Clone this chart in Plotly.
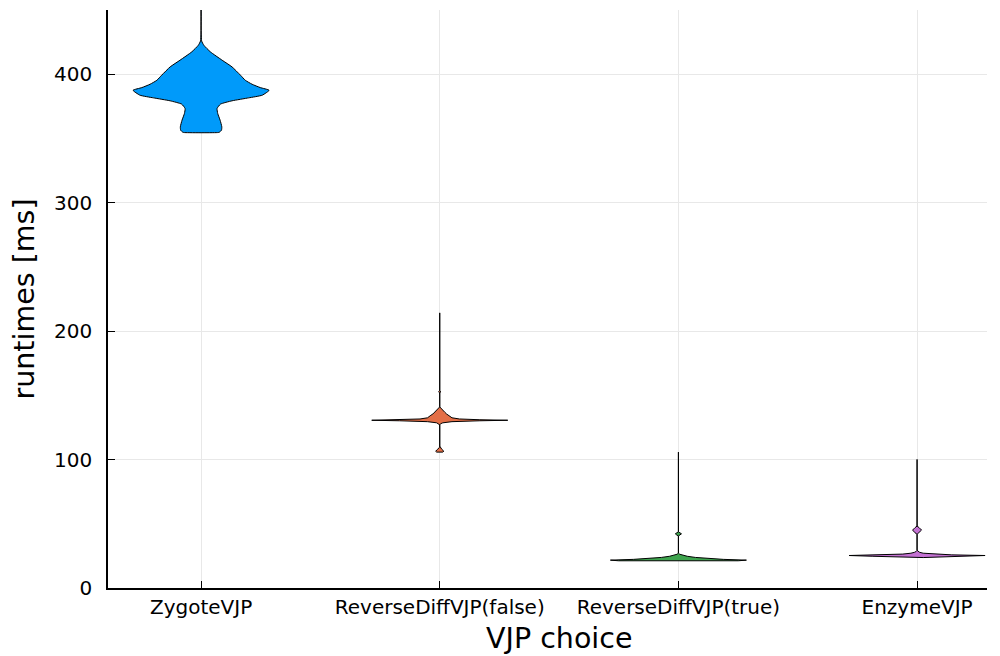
import plotly.graph_objects as go

categories = ["ZygoteVJP", "ReverseDiffVJP(false)", "ReverseDiffVJP(true)", "EnzymeVJP"]
colors = ["#009AFA", "#E36F47", "#3EA44E", "#C371D2"]

# density profiles: runtime levels [ms] and relative density (max = 1)
zygote_y = [354.6, 354.9, 356.4, 359.0, 364.2, 369.4, 373.3, 376.7, 379.3, 381.6, 383.7, 387.5,
            389.6, 392.2, 395.3, 399.2, 405.7, 410.9, 417.4, 422.6, 426.0, 470.0]
zygote_d = [0.25, 0.27, 0.30, 0.305, 0.28, 0.245, 0.235, 0.285, 0.455, 0.70, 0.90, 1.0,
            0.87, 0.75, 0.65, 0.58, 0.455, 0.31, 0.137, 0.04, 0.008, 0.0]

rdfalse_y = [105.8, 106.5, 108.0, 109.5, 110.5, 127.0, 127.8, 128.6, 129.5, 130.2, 130.6, 131.0,
             131.6, 132.5, 133.5, 134.5, 135.5, 136.8, 138.0, 139.3, 140.3, 141.0, 152.0, 152.8,
             153.6, 214.2]
rdfalse_d = [0.045, 0.06, 0.03, 0.005, 0.0, 0.0, 0.01, 0.045, 0.18, 0.59, 1.0, 0.59,
             0.29, 0.18, 0.15, 0.13, 0.10, 0.075, 0.05, 0.03, 0.012, 0.0, 0.0, 0.018,
             0.0, 0.0]

rdtrue_y = [21.2, 21.7, 22.3, 23.0, 23.8, 24.7, 25.5, 26.3, 27.0, 28.0, 40.5, 41.5, 42.2, 43.0,
            43.8, 105.8]
rdtrue_d = [0.88, 1.0, 0.66, 0.41, 0.25, 0.13, 0.06, 0.018, 0.004, 0.0, 0.0, 0.03, 0.045, 0.022,
            0.0, 0.0]

enzyme_y = [23.7, 24.0, 24.7, 25.3, 25.8, 26.4, 27.1, 27.8, 28.5, 29.3, 41.8, 43.0, 45.1, 47.0,
            48.2, 100.1]
enzyme_d = [0.09, 0.25, 0.65, 1.0, 0.51, 0.21, 0.09, 0.037, 0.012, 0.0, 0.0, 0.03, 0.066, 0.03,
            0.0, 0.0]

profiles = [(zygote_y, zygote_d), (rdfalse_y, rdfalse_d), (rdtrue_y, rdtrue_d), (enzyme_y, enzyme_d)]
line_shapes = ["spline", "linear", "linear", "linear"]

y_ticks = [0, 100, 200, 300, 400]

HALF_WIDTH = 0.285

fig = go.Figure()
for i, (ys, ds) in enumerate(profiles):
    xs_right = [i + d * HALF_WIDTH for d in ds]
    xs_left = [i - d * HALF_WIDTH for d in ds]
    px = xs_right + xs_left[::-1] + [xs_right[0]]
    py = ys + ys[::-1] + [ys[0]]
    fig.add_trace(go.Scatter(
        x=px, y=py, mode="lines", fill="toself",
        fillcolor=colors[i],
        line=dict(color="black", width=1, shape=line_shapes[i], smoothing=0.5),
        name=categories[i], showlegend=False, hoverinfo="skip",
    ))

axis_font = dict(family="DejaVu Sans", size=20, color="black")
title_font = dict(family="DejaVu Sans", size=28.5, color="black")

# the page has an 8px body margin, so the figure is 8px smaller than the window
fig.update_layout(
    width=992, height=648,
    margin=dict(l=100, r=13, t=2, b=68, autoexpand=False),
    paper_bgcolor="white", plot_bgcolor="white",
    showlegend=False,
    annotations=[dict(
        text="VJP choice", font=title_font, showarrow=False,
        xref="x", x=(len(categories) - 1) / 2, yref="paper", y=-0.088,
        xanchor="center", yanchor="middle",
    )],
)
fig.update_xaxes(
    range=[-0.39, 3.293], automargin=False,
    tickvals=list(range(len(categories))), ticktext=categories,
    tickfont=axis_font,
    showline=True, linecolor="black", linewidth=1.5,
    ticks="inside", ticklen=7, tickwidth=1.2, tickcolor="black",
    showgrid=True, gridcolor="#e8e8e8", gridwidth=1,
    zeroline=False, mirror=False,
)
fig.update_yaxes(
    range=[0, 450], automargin=False,
    tickvals=y_ticks, ticktext=[str(v) for v in y_ticks],
    tickfont=axis_font,
    title=dict(text="runtimes [ms]", font=title_font, standoff=15),
    showline=True, linecolor="black", linewidth=1.5,
    ticks="inside", ticklen=7, tickwidth=1.2, tickcolor="black",
    showgrid=True, gridcolor="#e8e8e8", gridwidth=1,
    zeroline=False, mirror=False,
    ticklabelstandoff=10,
)

fig.write_html("out.html")
